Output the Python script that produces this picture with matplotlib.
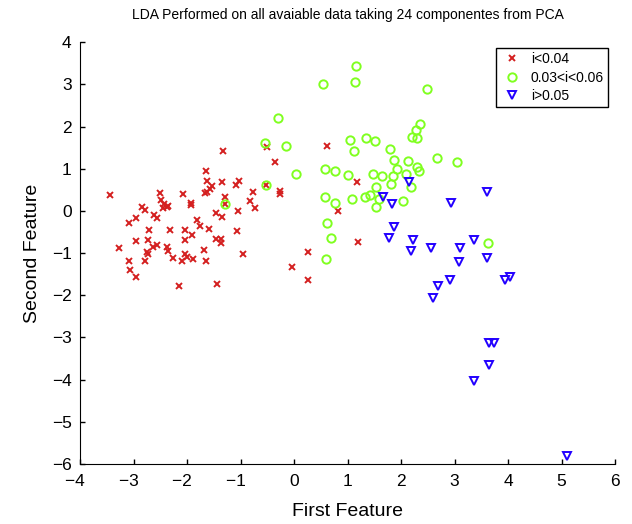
import matplotlib
matplotlib.use("Agg")
import matplotlib.pyplot as plt
import numpy as np

plt.rcParams['font.family'] = ['Liberation Sans', 'DejaVu Sans']

# class 1: i<0.04
red_x = [-1.32, -0.51, -0.35, -1.65, -0.53, -1.29, -1.62, -1.53, -1.57, -1.67,
         -1.62, -1.34, -1.08, -1.03, -0.76, -0.27, -0.27, -0.83, -0.73, -1.29,
         -1.05, -3.44, -2.51, -2.49, -2.43, -2.38, -2.44, -2.35, -2.08, -1.92,
         -1.92, -2.85, -2.79, -1.45, -1.34, -1.82, -1.76, -1.58, -2.62, -2.56,
         -2.96, -3.08, -2.71, -2.32, -2.04, -1.07, -1.90, -2.04, -2.72, -2.95,
         -2.56, -2.64, -1.45, -1.37, -1.37, -3.27, -2.37, -2.35, -2.75, -2.72,
         -1.69, -2.03, -2.00, -2.27, -2.10, -1.88, -1.65, -0.96, -3.09, -2.78,
         -3.06, -2.96, -2.15, -1.44, -0.03, 0.26, 0.26, 0.61, 1.17, 0.82, 1.20]
red_y = [1.43, 1.51, 1.15, 0.94, 0.62, 0.17, 0.70, 0.59, 0.52, 0.43,
         0.46, 0.69, 0.61, 0.72, 0.44, 0.48, 0.41, 0.24, 0.07, 0.32,
         -0.01, 0.37, 0.42, 0.27, 0.17, 0.10, 0.08, 0.11, 0.40, 0.18,
         0.14, 0.10, 0.03, -0.05, -0.14, -0.21, -0.36, -0.43, -0.10, -0.17,
         -0.16, -0.29, -0.45, -0.45, -0.45, -0.48, -0.56, -0.70, -0.68, -0.72,
         -0.80, -0.85, -0.66, -0.67, -0.75, -0.88, -0.86, -0.95, -0.97, -1.03,
         -0.92, -1.03, -1.08, -1.11, -1.18, -1.14, -1.19, -1.03, -1.19, -1.19,
         -1.40, -1.57, -1.77, -1.73, -1.33, -0.97, -1.63, 1.53, 0.69, 0.01, -0.74]

# class 2: 0.03<i<0.06
green_x = [-0.29, -0.55, -0.15, 0.04, -0.53, -1.29, 1.16, 0.55, 1.14, 2.49,
           2.36, 2.28, 2.21, 2.30, 1.04, 1.35, 1.52, 1.13, 1.79, 1.87,
           2.14, 2.68, 3.04, 2.29, 2.33, 1.92, 1.85, 2.09, 1.81, 2.18,
           1.47, 1.64, 1.54, 1.01, 0.58, 0.76, 0.58, 0.77, 1.08, 1.32,
           1.42, 1.58, 1.54, 2.03, 0.62, 0.70, 0.60, 3.63]
green_y = [2.20, 1.62, 1.54, 0.88, 0.62, 0.17, 3.43, 3.02, 3.07, 2.90,
           2.07, 1.93, 1.75, 1.73, 1.69, 1.73, 1.66, 1.42, 1.47, 1.22,
           1.19, 1.26, 1.15, 1.05, 0.95, 0.99, 0.82, 0.88, 0.65, 0.58,
           0.88, 0.82, 0.58, 0.86, 0.99, 0.95, 0.33, 0.18, 0.28, 0.33,
           0.37, 0.28, 0.10, 0.24, -0.29, -0.64, -1.15, -0.76]

# class 3: i>0.05
blue_x = [2.15, 3.60, 1.66, 1.84, 2.94, 1.87, 1.78, 2.22, 2.18, 2.56,
          3.10, 3.36, 3.09, 3.60, 2.91, 2.70, 2.60, 3.94, 4.03, 3.65,
          3.74, 3.64, 3.37, 5.11]
blue_y = [0.69, 0.45, 0.33, 0.16, 0.18, -0.38, -0.64, -0.70, -0.94, -0.88,
          -0.88, -0.68, -1.22, -1.11, -1.63, -1.77, -2.07, -1.63, -1.56, -3.14,
          -3.14, -3.65, -4.02, -5.82]

x_ticks = list(range(-4, 7))
y_ticks = list(range(-6, 5))


def tick_text(v):
    # digit centred on the tick, minus sign hanging to the left
    if v < 0:
        return '\u2212' + str(-v) + '\u2007'
    return str(v)


fig = plt.figure(figsize=(6.32, 5.24), dpi=100)
ax = fig.add_axes([0.1266, 0.1145, 0.8465, 0.8048])

ax.plot(red_x, red_y, 'x', color='#d42020', markersize=4, markeredgewidth=1.4,
        label='i<0.04')
ax.plot(green_x, green_y, 'o', color='#80ff20', markerfacecolor='none',
        markersize=6, markeredgewidth=1.4, label='0.03<i<0.06')
ax.plot(blue_x, blue_y, 'v', color='#2200ff', markerfacecolor='none',
        markersize=6, markeredgewidth=1.4, label='i>0.05')

ax.set_xlim(-4, 6)
ax.set_ylim(-6, 4)
ax.set_xticks(x_ticks)
ax.set_yticks(y_ticks)
ax.set_xticklabels([tick_text(v) for v in x_ticks])
ax.set_yticklabels([str(v).replace('-', '\u2212') for v in y_ticks])
ax.tick_params(direction='in', length=3.5, labelsize=12.5, width=1)
ax.tick_params(axis='x', pad=7.5)
ax.tick_params(axis='y', pad=6)
ax.spines['top'].set_visible(False)
ax.spines['right'].set_visible(False)

ax.set_xlabel('First Feature', fontsize=14, labelpad=10)
ax.set_ylabel('Second Feature', fontsize=14, labelpad=8)
ax.set_title('LDA Performed on all avaiable data taking 24 componentes from PCA',
             fontsize=10, pad=17)

leg = ax.legend(loc='upper right', bbox_to_anchor=(0.987, 0.986), borderaxespad=0,
                fontsize=10, fancybox=False, framealpha=1, edgecolor='black',
                borderpad=0.3, labelspacing=0.3, handletextpad=0.5,
                handlelength=1.7)
leg.get_frame().set_linewidth(1)

fig.savefig('out.png', dpi=100)
